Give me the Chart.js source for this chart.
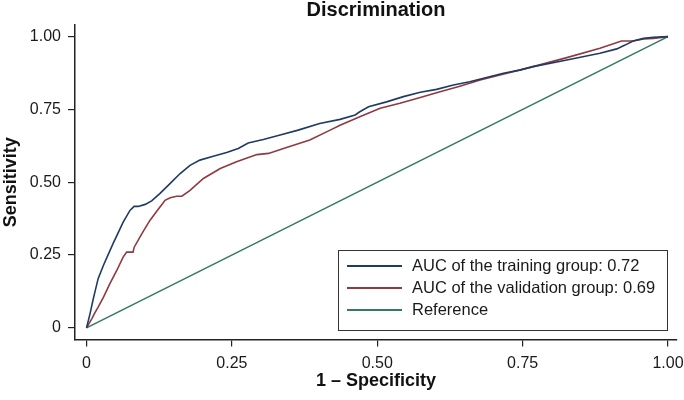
<!DOCTYPE html>
<html>
<head>
<meta charset="utf-8">
<script src="https://cdn.jsdelivr.net/npm/chart.js@4.4.1/dist/chart.umd.min.js"></script>
<style>
  html, body { margin: 0; padding: 0; background: #fff; }
  #wrap { width: 684px; height: 400px; }
</style>
</head>
<body>
<div id="wrap"><canvas id="rocChart" width="684" height="400"></canvas></div>
<script>
// ROC data
const trainFpr = [0, 0.006, 0.011, 0.015, 0.020, 0.029, 0.038, 0.046, 0.055, 0.063, 0.075, 0.082, 0.089, 0.101, 0.112, 0.126, 0.144, 0.161, 0.178, 0.195, 0.218, 0.241, 0.261, 0.278, 0.304, 0.333, 0.364, 0.401, 0.436, 0.462, 0.470, 0.485, 0.516, 0.545, 0.574, 0.602, 0.631, 0.659, 0.688, 0.717, 0.745, 0.768, 0.826, 0.883, 0.912, 0.926, 0.940, 0.958, 0.975, 1.0];
const trainTpr = [0, 0.048, 0.094, 0.128, 0.169, 0.214, 0.255, 0.291, 0.329, 0.363, 0.404, 0.417, 0.417, 0.424, 0.436, 0.461, 0.496, 0.530, 0.558, 0.576, 0.589, 0.602, 0.616, 0.635, 0.647, 0.662, 0.679, 0.702, 0.716, 0.731, 0.742, 0.759, 0.776, 0.794, 0.809, 0.819, 0.834, 0.845, 0.860, 0.874, 0.885, 0.897, 0.920, 0.943, 0.958, 0.971, 0.985, 0.994, 0.998, 1.0];

const valFpr = [0, 0.009, 0.015, 0.020, 0.029, 0.040, 0.052, 0.063, 0.069, 0.080, 0.082, 0.095, 0.109, 0.124, 0.131, 0.135, 0.144, 0.155, 0.164, 0.178, 0.201, 0.230, 0.258, 0.293, 0.313, 0.344, 0.384, 0.419, 0.436, 0.470, 0.505, 0.539, 0.574, 0.608, 0.642, 0.677, 0.711, 0.768, 0.826, 0.883, 0.920, 0.940, 0.958, 0.975, 1.0];
const valTpr = [0, 0.031, 0.054, 0.071, 0.105, 0.151, 0.197, 0.243, 0.260, 0.260, 0.277, 0.323, 0.369, 0.409, 0.427, 0.438, 0.447, 0.452, 0.452, 0.472, 0.513, 0.547, 0.570, 0.595, 0.599, 0.619, 0.645, 0.679, 0.696, 0.725, 0.754, 0.771, 0.791, 0.811, 0.830, 0.851, 0.868, 0.897, 0.928, 0.960, 0.985, 0.985, 0.992, 0.994, 1.0];

const refFpr = [0, 1];
const refTpr = [0, 1];

const tickValues = [0, 0.25, 0.5, 0.75, 1];
const tickLabels = ['0', '0.25', '0.50', '0.75', '1.00'];

const seriesLabels = ['AUC of the training group: 0.72', 'AUC of the validation group: 0.69', 'Reference'];
const seriesColors = ['#1f3b63', '#8e3a40', '#347a62'];

const FONT = '"Liberation Sans", Arial, sans-serif';

function toPoints(xs, ys) {
  return xs.map((x, i) => ({ x: x, y: ys[i] }));
}

// Title centred over the plot region
const titlePlugin = {
  id: 'plotTitle',
  afterDraw(chart) {
    const ctx = chart.ctx;
    const area = chart.chartArea;
    ctx.save();
    ctx.font = 'bold 20px ' + FONT;
    ctx.fillStyle = '#111';
    ctx.textAlign = 'center';
    ctx.textBaseline = 'middle';
    ctx.fillText('Discrimination', (area.left + area.right) / 2, 10);
    ctx.restore();
  }
};

// Boxed legend inside the plot, lower right
const boxLegend = {
  id: 'boxLegend',
  afterDraw(chart) {
    const ctx = chart.ctx;
    const left = 338, top = 250, w = 329, h = 80;
    ctx.save();
    ctx.fillStyle = '#fff';
    ctx.fillRect(left, top, w, h);
    ctx.strokeStyle = '#333';
    ctx.lineWidth = 1;
    ctx.strokeRect(left + 0.5, top + 0.5, w, h);
    ctx.font = '16.5px ' + FONT;
    ctx.textBaseline = 'middle';
    ctx.textAlign = 'left';
    chart.data.datasets.forEach((ds, i) => {
      const y = top + 16 + i * 22;
      ctx.strokeStyle = ds.borderColor;
      ctx.lineWidth = 2;
      ctx.beginPath();
      ctx.moveTo(347, y);
      ctx.lineTo(402, y);
      ctx.stroke();
      ctx.fillStyle = '#1a1a1a';
      ctx.fillText(ds.label, 412, y);
    });
    ctx.restore();
  }
};

function axisCommon(titleText, min, max, fitFn, titlePad) {
  return {
    type: 'linear',
    min: min,
    max: max,
    afterBuildTicks: scale => { scale.ticks = tickValues.map(v => ({ value: v })); },
    afterFit: fitFn,
    border: { display: true, color: '#222', width: 1.5 },
    grid: {
      drawOnChartArea: false,
      drawTicks: true,
      tickLength: 7,
      tickColor: '#222',
      lineWidth: 1.2
    },
    ticks: {
      autoSkip: false,
      maxRotation: 0,
      padding: 7,
      color: '#1a1a1a',
      font: { family: FONT, size: 16 },
      callback: function(value) {
        const idx = tickValues.indexOf(value);
        return idx >= 0 ? tickLabels[idx] : '';
      }
    },
    title: {
      display: true,
      text: titleText,
      color: '#111',
      padding: titlePad,
      font: { family: FONT, size: 18, weight: 'bold', lineHeight: 1.1 }
    }
  };
}

document.addEventListener('DOMContentLoaded', function() {
  const ctx = document.getElementById('rocChart').getContext('2d');
  new Chart(ctx, {
    type: 'line',
    data: {
      datasets: [
        { label: seriesLabels[0], data: toPoints(trainFpr, trainTpr), borderColor: seriesColors[0] },
        { label: seriesLabels[1], data: toPoints(valFpr, valTpr), borderColor: seriesColors[1] },
        { label: seriesLabels[2], data: toPoints(refFpr, refTpr), borderColor: seriesColors[2] }
      ]
    },
    options: {
      responsive: false,
      animation: false,
      elements: {
        line: { borderWidth: 1.6, tension: 0, fill: false },
        point: { radius: 0 }
      },
      layout: { padding: { top: 25, right: 7, left: 0, bottom: 0 } },
      plugins: {
        legend: { display: false },
        title: { display: false },
        tooltip: { enabled: false }
      },
      scales: {
        x: axisCommon('1 \u2013 Specificity', -0.0198, 1.0155,
          scale => { scale.height = 60.5; scale.paddingLeft = 0; scale.paddingRight = 0; },
          { top: 0, bottom: 9 }),
        y: axisCommon('Sensitivity', -0.040, 1.040,
          scale => { scale.width = 75; scale.paddingTop = 0; scale.paddingBottom = 0; },
          { top: 1, bottom: 0 })
      }
    },
    plugins: [titlePlugin, boxLegend]
  });
});
</script>
</body>
</html>
